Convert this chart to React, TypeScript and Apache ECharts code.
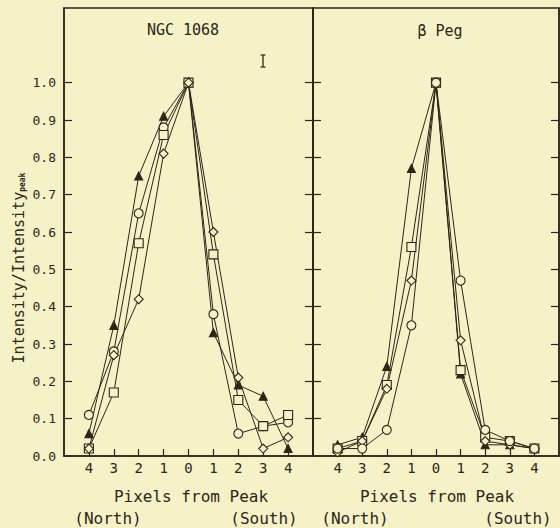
import React, { useEffect, useRef } from "react";
import * as echarts from "echarts";

// Pixel offsets from peak (negative = North, positive = South)
const pixels = [-4, -3, -2, -1, 0, 1, 2, 3, 4];

// NGC 1068 panel
const ngcTriangle = [0.06, 0.35, 0.75, 0.91, 1.0, 0.33, 0.19, 0.16, 0.02];
const ngcCircle = [0.11, 0.28, 0.65, 0.88, 1.0, 0.38, 0.06, 0.08, 0.09];
const ngcSquare = [0.02, 0.17, 0.57, 0.86, 1.0, 0.54, 0.15, 0.08, 0.11];
const ngcDiamond = [0.02, 0.27, 0.42, 0.81, 1.0, 0.6, 0.21, 0.02, 0.05];

// beta Peg panel
const pegTriangle = [0.03, 0.05, 0.24, 0.77, 1.0, 0.22, 0.03, 0.03, 0.02];
const pegSquare = [0.02, 0.04, 0.19, 0.56, 1.0, 0.23, 0.05, 0.04, 0.02];
const pegDiamond = [0.01, 0.04, 0.18, 0.47, 1.0, 0.31, 0.04, 0.03, 0.02];
const pegCircle = [0.02, 0.02, 0.07, 0.35, 1.0, 0.47, 0.07, 0.04, 0.02];

const yTicks = [0.1, 0.2, 0.3, 0.4, 0.5, 0.6, 0.7, 0.8, 0.9, 1.0];
const yLabels = [0, 0.1, 0.2, 0.3, 0.4, 0.5, 0.6, 0.7, 0.8, 0.9, 1.0];

const INK = "#2c2618";
const BG = "#f6f2c8";
const FONT = "DejaVu Sans Mono";

export default function App() {
  const ref = useRef<HTMLDivElement>(null);
  useEffect(() => {
    if (!ref.current) return;
    const chart = echarts.init(ref.current, null, { renderer: "svg" });

    const mk = (
      name: string,
      vals: number[],
      idx: number,
      symbol: string,
      filled: boolean,
      size: number
    ) => ({
      type: "line",
      name,
      data: pixels.map((p, i) => [p, vals[i]]),
      xAxisIndex: idx,
      yAxisIndex: idx * 2,
      symbol,
      symbolSize: size,
      showSymbol: true,
      lineStyle: { color: INK, width: 1 },
      itemStyle: { color: filled ? INK : BG, borderColor: INK, borderWidth: 1.1 },
      emphasis: { disabled: true },
      z: 3,
    });

    const xAx = (gridIndex: number) => ({
      type: "value",
      gridIndex,
      min: -5,
      max: 5,
      interval: 1,
      axisLine: { show: true, onZero: false, lineStyle: { color: INK, width: 1.5 } },
      axisTick: {
        show: true,
        inside: true,
        length: 7,
        customValues: pixels,
        lineStyle: { color: INK, width: 1.2 },
      },
      axisLabel: {
        show: true,
        customValues: pixels,
        formatter: (v: number) => String(Math.abs(v)),
        color: INK,
        fontFamily: FONT,
        fontSize: 14,
        margin: 5,
      },
      splitLine: { show: false },
    });

    const yAx = (gridIndex: number, position: string, labels: boolean) => ({
      type: "value",
      gridIndex,
      position,
      min: 0,
      max: 1.2,
      interval: 0.1,
      axisLine: { show: true, onZero: false, lineStyle: { color: INK, width: 1.5 } },
      axisTick: {
        show: true,
        inside: true,
        length: 8,
        customValues: yTicks,
        lineStyle: { color: INK, width: 1.2 },
      },
      axisLabel: {
        show: labels,
        customValues: yLabels,
        formatter: (v: number) => v.toFixed(1),
        color: INK,
        fontFamily: FONT,
        fontSize: 13,
        margin: 8,
      },
      splitLine: { show: false },
    });

    const txt = (text: string, x: number, y: number, size: number) => ({
      type: "text",
      x,
      y,
      silent: true,
      style: {
        text,
        fill: INK,
        font: `${size}px "${FONT}"`,
        align: "center",
        verticalAlign: "middle",
      },
    });

    chart.setOption({
      animation: false,
      backgroundColor: BG,
      grid: [
        { left: 64, top: 8, width: 249, height: 448, show: true, borderColor: INK, borderWidth: 1.5, containLabel: false },
        { left: 313, top: 8, width: 246, height: 448, show: true, borderColor: INK, borderWidth: 1.5, containLabel: false },
      ],
      xAxis: [xAx(0), xAx(1)],
      yAxis: [
        yAx(0, "left", true),
        yAx(0, "right", false),
        yAx(1, "left", false),
        yAx(1, "right", false),
      ],
      series: [
        mk("NGC triangle", ngcTriangle, 0, "triangle", true, 8),
        mk("NGC circle", ngcCircle, 0, "circle", false, 9),
        mk("NGC square", ngcSquare, 0, "rect", false, 9),
        mk("NGC diamond", ngcDiamond, 0, "diamond", false, 9),
        mk("Peg triangle", pegTriangle, 1, "triangle", true, 8),
        mk("Peg square", pegSquare, 1, "rect", false, 9),
        mk("Peg diamond", pegDiamond, 1, "diamond", false, 9),
        mk("Peg circle", pegCircle, 1, "circle", false, 9),
      ],
      graphic: [
        txt("NGC 1068", 183, 30, 15),
        txt("β Peg", 440, 31, 15),
        txt("Pixels from Peak", 191, 496, 16),
        txt("Pixels from Peak", 437, 496, 16),
        txt("(North)", 108, 518, 16),
        txt("(South)", 264, 518, 16),
        txt("(North)", 355, 518, 16),
        txt("(South)", 518, 518, 16),
        {
          type: "text",
          x: 19,
          y: 268,
          rotation: Math.PI / 2,
          silent: true,
          style: {
            text: "{a|Intensity/Intensity}{b|peak}",
            fill: INK,
            align: "center",
            verticalAlign: "middle",
            rich: {
              a: { fontFamily: FONT, fontSize: 15, fill: INK, color: INK },
              b: { fontFamily: FONT, fontSize: 8, fontWeight: "bold", fill: INK, color: INK, verticalAlign: "bottom" },
            },
          },
        },
        {
          type: "group",
          x: 263,
          y: 55,
          silent: true,
          children: [
            { type: "line", shape: { x1: 0, y1: 0, x2: 0, y2: 12 }, style: { stroke: INK, lineWidth: 1.3 } },
            { type: "line", shape: { x1: -2.5, y1: 0, x2: 2.5, y2: 0 }, style: { stroke: INK, lineWidth: 1.2 } },
            { type: "line", shape: { x1: -2.5, y1: 12, x2: 2.5, y2: 12 }, style: { stroke: INK, lineWidth: 1.2 } },
          ],
        },
      ],
    });
    return () => chart.dispose();
  }, []);
  return (
    <div
      ref={ref}
      style={{ position: "fixed", left: 0, top: 0, width: 560, height: 528, background: BG }}
    />
  );
}
